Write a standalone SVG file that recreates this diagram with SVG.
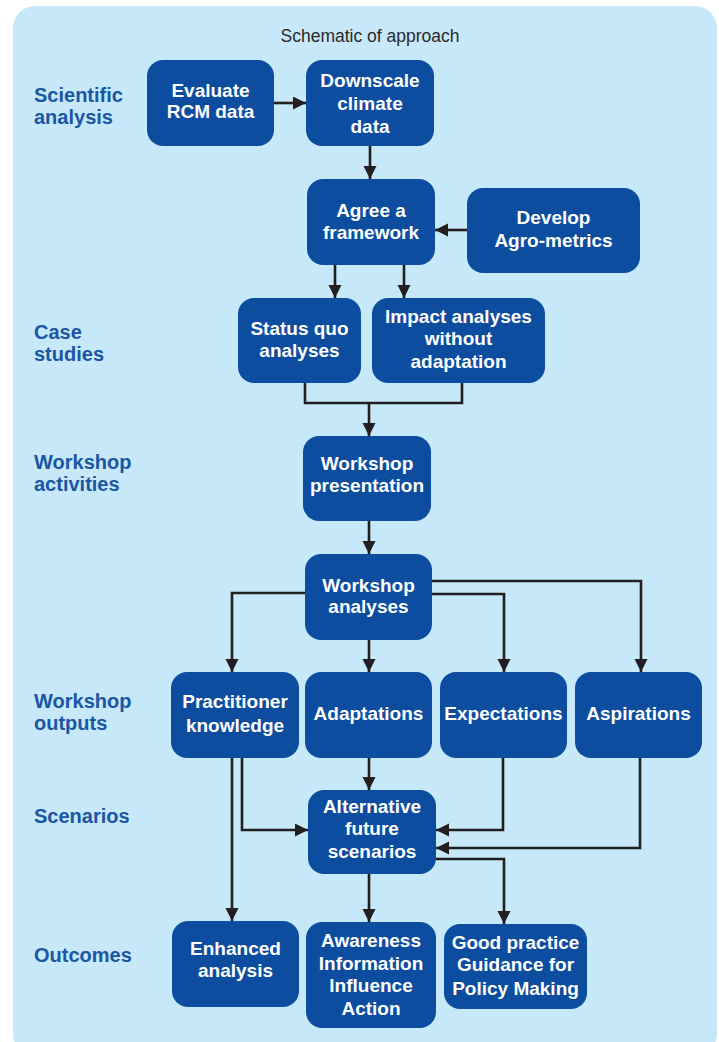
<svg xmlns="http://www.w3.org/2000/svg" width="719" height="1042" viewBox="0 0 719 1042">
<style>
.box{fill:#0c4da0;}
.bt{font-family:"Liberation Sans",Arial,sans-serif;font-weight:bold;font-size:19px;fill:#ffffff;text-anchor:middle;}
.lab{font-family:"Liberation Sans",Arial,sans-serif;font-weight:bold;font-size:20px;fill:#1b56a4;}
.ttl{font-family:"Liberation Sans",Arial,sans-serif;font-size:17.5px;fill:#2a2a2a;text-anchor:middle;}
.con{fill:none;stroke:#231f20;stroke-width:2.6;}
</style>
<defs>
<marker id="ah" markerUnits="userSpaceOnUse" markerWidth="14" markerHeight="14" refX="13" refY="6.5" orient="auto">
<path d="M0,0 L13,6.5 L0,13 z" fill="#231f20"/>
</marker>
</defs>
<rect x="13" y="6" width="704" height="1050" rx="22" fill="#c6e8f8"/>
<text class="ttl" x="370" y="42">Schematic of approach</text>
<g id="labels">
<text class="lab" x="34" y="102">Scientific</text>
<text class="lab" x="34" y="124">analysis</text>
<text class="lab" x="34" y="339">Case</text>
<text class="lab" x="34" y="361">studies</text>
<text class="lab" x="34" y="469">Workshop</text>
<text class="lab" x="34" y="491">activities</text>
<text class="lab" x="34" y="708">Workshop</text>
<text class="lab" x="34" y="730">outputs</text>
<text class="lab" x="34" y="823">Scenarios</text>
<text class="lab" x="34" y="962">Outcomes</text>
</g>
<g id="connectors">
<path class="con" marker-end="url(#ah)" d="M274,103 H306"/>
<path class="con" marker-end="url(#ah)" d="M370,146 V179"/>
<path class="con" marker-end="url(#ah)" d="M467,230 H435"/>
<path class="con" marker-end="url(#ah)" d="M335,265 V298"/>
<path class="con" marker-end="url(#ah)" d="M404,265 V298"/>
<path class="con" d="M305,383 V403 H462 V383"/>
<path class="con" marker-end="url(#ah)" d="M369,403 V436"/>
<path class="con" marker-end="url(#ah)" d="M369,521 V554"/>
<path class="con" marker-end="url(#ah)" d="M305,593 H232 V672"/>
<path class="con" marker-end="url(#ah)" d="M432,581 H641 V672"/>
<path class="con" marker-end="url(#ah)" d="M432,594 H504 V672"/>
<path class="con" marker-end="url(#ah)" d="M369,640 V672"/>
<path class="con" marker-end="url(#ah)" d="M232,758 V921"/>
<path class="con" marker-end="url(#ah)" d="M242,758 V830 H308"/>
<path class="con" marker-end="url(#ah)" d="M369,758 V790"/>
<path class="con" marker-end="url(#ah)" d="M503,758 V830 H436"/>
<path class="con" marker-end="url(#ah)" d="M640,758 V848 H436"/>
<path class="con" marker-end="url(#ah)" d="M369,874 V922"/>
<path class="con" marker-end="url(#ah)" d="M436,859 H504 V924"/>
</g>
<g id="evaluate"><rect class="box" x="147" y="60" width="127" height="86" rx="16"/>
<text class="bt" x="210.5" y="97">Evaluate</text><text class="bt" x="210.5" y="118">RCM data</text></g>
<g id="downscale"><rect class="box" x="306" y="60" width="128" height="86" rx="16"/>
<text class="bt" x="370" y="87">Downscale</text><text class="bt" x="370" y="110">climate</text><text class="bt" x="370" y="133">data</text></g>
<g id="agree"><rect class="box" x="307" y="179" width="128" height="86" rx="16"/>
<text class="bt" x="371" y="217">Agree a</text><text class="bt" x="371" y="239">framework</text></g>
<g id="develop"><rect class="box" x="467" y="188" width="173" height="85" rx="16"/>
<text class="bt" x="553.5" y="224">Develop</text><text class="bt" x="553.5" y="247">Agro-metrics</text></g>
<g id="statusquo"><rect class="box" x="238" y="298" width="123" height="85" rx="16"/>
<text class="bt" x="299.5" y="335">Status quo</text><text class="bt" x="299.5" y="357">analyses</text></g>
<g id="impact"><rect class="box" x="372" y="298" width="173" height="85" rx="16"/>
<text class="bt" x="458.5" y="323">Impact analyses</text><text class="bt" x="458.5" y="345">without</text><text class="bt" x="458.5" y="368">adaptation</text></g>
<g id="wpresentation"><rect class="box" x="303" y="436" width="128" height="85" rx="16"/>
<text class="bt" x="367" y="470">Workshop</text><text class="bt" x="367" y="492">presentation</text></g>
<g id="wanalyses"><rect class="box" x="305" y="554" width="127" height="86" rx="16"/>
<text class="bt" x="368.5" y="592">Workshop</text><text class="bt" x="368.5" y="613">analyses</text></g>
<g id="practitioner"><rect class="box" x="171" y="672" width="128" height="86" rx="16"/>
<text class="bt" x="235" y="708">Practitioner</text><text class="bt" x="235" y="732">knowledge</text></g>
<g id="adaptations"><rect class="box" x="305" y="672" width="127" height="86" rx="16"/>
<text class="bt" x="368.5" y="720">Adaptations</text></g>
<g id="expectations"><rect class="box" x="440" y="672" width="127" height="86" rx="16"/>
<text class="bt" x="503.5" y="720">Expectations</text></g>
<g id="aspirations"><rect class="box" x="575" y="672" width="127" height="86" rx="16"/>
<text class="bt" x="638.5" y="720">Aspirations</text></g>
<g id="alternative"><rect class="box" x="308" y="790" width="128" height="84" rx="16"/>
<text class="bt" x="372" y="813">Alternative</text><text class="bt" x="372" y="835">future</text><text class="bt" x="372" y="858">scenarios</text></g>
<g id="enhanced"><rect class="box" x="172" y="921" width="127" height="86" rx="16"/>
<text class="bt" x="235.5" y="955">Enhanced</text><text class="bt" x="235.5" y="977">analysis</text></g>
<g id="awareness"><rect class="box" x="306" y="922" width="130" height="106" rx="16"/>
<text class="bt" x="371" y="947">Awareness</text><text class="bt" x="371" y="970">Information</text><text class="bt" x="371" y="992">Influence</text><text class="bt" x="371" y="1015">Action</text></g>
<g id="goodpractice"><rect class="box" x="444" y="924" width="143" height="85" rx="16"/>
<text class="bt" x="515.5" y="949">Good practice</text><text class="bt" x="515.5" y="971">Guidance for</text><text class="bt" x="515.5" y="995">Policy Making</text></g>
</svg>
